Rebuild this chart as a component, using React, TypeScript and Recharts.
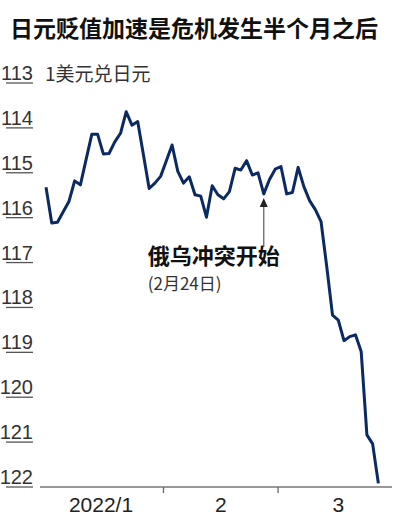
import React from "react";
import { LineChart, Line, XAxis, YAxis, ReferenceDot } from "recharts";

// 1美元兑日元, daily closes Jan–Mar 2022
const yenPerDollar = [
  115.32, 116.12, 116.1, 115.87, 115.64, 115.18, 115.27, 114.7, 114.14, 114.14,
  114.58, 114.57, 114.31, 114.12, 113.64, 113.94, 113.86, 114.6, 115.35, 115.23,
  115.08, 114.73, 114.38, 114.97, 115.23, 115.09, 115.49, 115.52, 115.99, 115.29,
  115.49, 115.58, 115.42, 114.9, 114.94, 114.73, 115.05, 115.0, 115.47, 115.15,
  114.92, 114.86, 115.47, 115.44, 114.88, 115.31, 115.62, 115.82, 116.09, 117.1,
  118.17, 118.28, 118.74, 118.65, 118.61, 118.98, 120.84, 121.04, 121.92,
];

const yTicks = [113, 114, 115, 116, 117, 118, 119, 120, 121, 122];
const monthLabels = ["2022/1", "2", "3"];
const monthLabelPos = [9.6, 30.5, 51];
const monthBoundaries = [20.5, 40.5];

const invasionIdx = 38; // 2月24日
const NAVY = "#0b2a63";

const data = yenPerDollar.map((v, i) => ({ i, v }));

const YTick = ({ y, payload }: any) => (
  <g>
    <line x1={6} x2={33} y1={y} y2={y} stroke="#555" strokeWidth={1.3} />
    <text
      x={33}
      y={y - 3}
      textAnchor="end"
      fontSize={20}
      fill="#333"
      fontFamily="'Liberation Sans Narrow', 'Arial Narrow', sans-serif"
    >
      {payload.value}
    </text>
  </g>
);

const XTick = ({ x, y, payload }: any) => {
  const b = monthBoundaries.indexOf(payload.value);
  if (b >= 0) {
    return <line x1={x} x2={x} y1={y - 8} y2={y - 2} stroke="#666" strokeWidth={1.3} />;
  }
  const m = monthLabelPos.indexOf(payload.value);
  return (
    <text
      x={x}
      y={y + 17}
      textAnchor="middle"
      fontSize={21}
      fill="#222"
      fontFamily="'Liberation Sans Narrow', 'Arial Narrow', sans-serif"
    >
      {monthLabels[m]}
    </text>
  );
};

const Annotation = ({ cx, cy }: any) => (
  <g>
    <line x1={cx} x2={cx} y1={cy + 10} y2={cy + 53} stroke="#666" strokeWidth={1.3} />
    <polygon points={`${cx},${cy + 4} ${cx - 4},${cy + 13} ${cx + 4},${cy + 13}`} fill="#222" />
    <text
      x={cx - 116}
      y={cy + 70}
      fontSize={22}
      fontWeight={700}
      fill="#111"
      fontFamily="'Noto Sans CJK SC', sans-serif"
    >
      俄乌冲突开始
    </text>
    <text
      x={cx - 116}
      y={cy + 96}
      fontSize={17}
      fill="#333"
      fontFamily="'Noto Sans CJK SC', sans-serif"
    >
      (2月24日)
    </text>
  </g>
);

export default function App() {
  return (
    <div style={{ position: "absolute", left: 0, top: 0, width: 398, height: 521, background: "#fff" }}>
      <div
        style={{
          position: "absolute",
          left: 10,
          top: 16,
          fontSize: 23,
          lineHeight: "23px",
          fontWeight: 700,
          color: "#111",
          fontFamily: "'Noto Sans CJK SC', sans-serif",
          whiteSpace: "nowrap",
        }}
      >
        日元贬值加速是危机发生半个月之后
      </div>
      <div
        style={{
          position: "absolute",
          left: 45,
          top: 63,
          fontSize: 19,
          lineHeight: "19px",
          color: "#333",
          fontFamily: "'Noto Sans CJK SC', sans-serif",
          whiteSpace: "nowrap",
        }}
      >
        1美元兑日元
      </div>
      <LineChart
        width={398}
        height={521}
        data={data}
        margin={{ top: 83, right: 6, bottom: 0, left: 0 }}
      >
        <XAxis
          dataKey="i"
          type="number"
          domain={[-1.05, 60.38]}
          ticks={[...monthLabelPos, ...monthBoundaries].sort((a, b) => a - b)}
          interval={0}
          height={34}
          tickLine={false}
          axisLine={{ stroke: "#777", strokeWidth: 1.5 }}
          tick={<XTick />}
        />
        <YAxis
          type="number"
          reversed
          domain={[113, 122]}
          ticks={yTicks}
          interval={0}
          width={40}
          axisLine={false}
          tickLine={false}
          tick={<YTick />}
        />
        <Line
          type="linear"
          dataKey="v"
          stroke={NAVY}
          strokeWidth={3}
          dot={false}
          isAnimationActive={false}
          strokeLinejoin="round"
        />
        <ReferenceDot
          x={invasionIdx}
          y={yenPerDollar[invasionIdx]}
          ifOverflow="visible"
          shape={(p: any) => <Annotation cx={p.cx} cy={p.cy} />}
        />
      </LineChart>
    </div>
  );
}
